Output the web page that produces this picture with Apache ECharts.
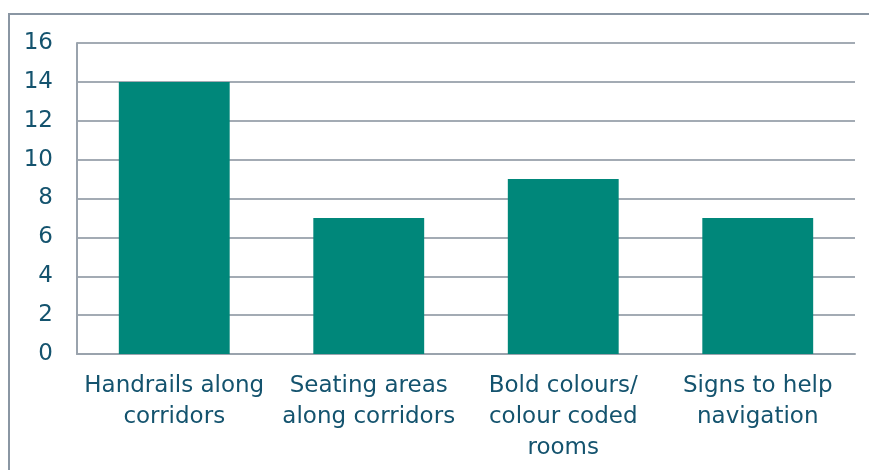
<!DOCTYPE html>
<html>
<head>
<meta charset="utf-8">
<script src="https://cdn.jsdelivr.net/npm/echarts@6/dist/echarts.min.js"></script>
<style>
html,body{margin:0;padding:0;background:#fff;}
#frame{position:absolute;left:8px;top:13px;width:880px;height:480px;border:2px solid #8a96a3;box-sizing:border-box;}
#chart{position:absolute;left:0;top:0;width:869px;height:470px;}
</style>
</head>
<body>
<div id="frame"></div>
<div id="chart"></div>
<script>
const categories = [
  'Handrails along\ncorridors',
  'Seating areas\nalong corridors',
  'Bold colours/\ncolour coded\nrooms',
  'Signs to help\nnavigation'
];
const counts = [14, 7, 9, 7];
const yTicks = [0, 2, 4, 6, 8, 10, 12, 14, 16];

const textColor = '#14536e';
const font = 'DejaVu Sans';

const chart = echarts.init(document.getElementById('chart'), null, {renderer: 'canvas'});
chart.setOption({
  animation: false,
  grid: {left: 77, right: 14, top: 43, bottom: 116, containLabel: false},
  xAxis: {
    type: 'category',
    data: categories,
    axisLine: {show: true, lineStyle: {color: '#9aa3ad', width: 2}},
    axisTick: {show: false},
    axisLabel: {
      color: textColor, fontFamily: font, fontSize: 23, lineHeight: 31,
      margin: 17, interval: 0
    },
    splitLine: {show: false}
  },
  yAxis: {
    type: 'value',
    min: yTicks[0],
    max: yTicks[yTicks.length - 1],
    interval: 2,
    axisLine: {show: true, lineStyle: {color: '#9aa3ad', width: 2}},
    axisTick: {show: false},
    axisLabel: {
      color: textColor, fontFamily: font, fontSize: 23, margin: 24,
      formatter: v => yTicks.includes(v) ? String(v) : ''
    },
    splitLine: {show: true, lineStyle: {color: '#a3abb4', width: 2}}
  },
  series: [{
    type: 'bar',
    data: counts,
    barWidth: '57%',
    itemStyle: {color: '#00877a'}
  }]
});
</script>
</body>
</html>
